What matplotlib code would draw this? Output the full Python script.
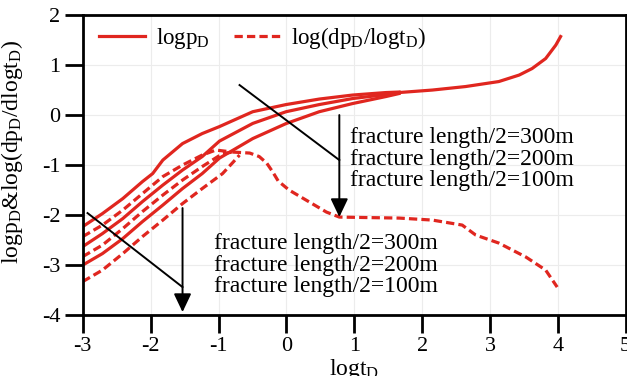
import matplotlib
matplotlib.use("Agg")
import matplotlib.pyplot as plt

plt.rcParams['font.family'] = ['Liberation Serif', 'DejaVu Serif']
plt.rcParams['mathtext.fontset'] = 'custom'
plt.rcParams['mathtext.rm'] = 'Liberation Serif'
plt.rcParams['mathtext.it'] = 'Liberation Serif:italic'
plt.rcParams['axes.unicode_minus'] = False

RED = '#e0261f'

# logpD, three fracture lengths (300, 200, 100 m) before merging
sol_x_300 = [-3.0, -2.71, -2.41, -2.12, -1.97, -1.82, -1.53, -1.24, -0.985, -0.495, -0.004, 0.485, 0.975, 1.466, 1.66]
sol_y_300 = [-2.23, -1.97, -1.67, -1.33, -1.17, -0.90, -0.57, -0.37, -0.23, 0.067, 0.21, 0.32, 0.40, 0.45, 0.46]
sol_x_200 = [-3.0, -2.71, -2.41, -2.12, -1.82, -1.53, -1.24, -0.985, -0.495, -0.004, 0.485, 0.975, 1.466, 1.66]
sol_y_200 = [-2.63, -2.37, -2.07, -1.73, -1.40, -1.10, -0.83, -0.52, -0.167, 0.067, 0.21, 0.33, 0.41, 0.45]
sol_x_100 = [-3.0, -2.71, -2.41, -2.12, -1.82, -1.53, -1.24, -0.985, -0.495, -0.004, 0.485, 0.975, 1.466, 1.66]
sol_y_100 = [-3.0, -2.77, -2.47, -2.13, -1.80, -1.47, -1.17, -0.86, -0.47, -0.17, 0.067, 0.23, 0.37, 0.43]
# common late-time logpD
sol_x_tail = [1.66, 2.15, 2.64, 3.13, 3.43, 3.62, 3.82, 3.97, 4.04]
sol_y_tail = [0.45, 0.50, 0.57, 0.67, 0.80, 0.93, 1.13, 1.40, 1.57]

# derivative, three fracture lengths before merging
der_x_300 = [-3.0, -2.71, -2.41, -2.12, -1.82, -1.53, -1.24, -1.04, -0.79]
der_y_300 = [-2.43, -2.20, -1.90, -1.57, -1.23, -1.00, -0.80, -0.70, -0.74]
der_x_200 = [-3.0, -2.71, -2.41, -2.12, -1.82, -1.53, -1.24, -0.94, -0.79]
der_y_200 = [-2.83, -2.60, -2.27, -1.93, -1.60, -1.30, -1.03, -0.77, -0.74]
der_x_100 = [-3.0, -2.71, -2.41, -2.12, -1.82, -1.53, -1.24, -0.94, -0.79, -0.69]
der_y_100 = [-3.33, -3.10, -2.77, -2.43, -2.10, -1.77, -1.47, -1.17, -0.95, -0.80]
# common late-time derivative
der_x_tail = [-0.79, -0.54, -0.40, -0.29, -0.20, -0.12, 0.04, 0.34, 0.59, 0.78, 1.2, 1.66, 2.15, 2.59, 2.79, 3.13, 3.53, 3.82, 3.99]
der_y_tail = [-0.74, -0.76, -0.83, -0.96, -1.14, -1.32, -1.50, -1.74, -1.94, -2.04, -2.05, -2.06, -2.10, -2.20, -2.40, -2.56, -2.84, -3.10, -3.44]

labels = ["fracture length/2=300m", "fracture length/2=200m", "fracture length/2=100m"]
xticks = [-3, -2, -1, 0, 1, 2, 3, 4, 5]
yticks = [-4, -3, -2, -1, 0, 1, 2]

fig = plt.figure(figsize=(6.27, 3.76), dpi=100)
ax = fig.add_axes([0.132, 0.162, 0.866, 0.798])

lw = 2.3
dash = (0, (2.6, 1.3))
for xs, ys in [(sol_x_300, sol_y_300), (sol_x_200, sol_y_200), (sol_x_100, sol_y_100)]:
    ax.plot(xs, ys, color=RED, lw=lw, solid_joinstyle='round')
ax.plot(sol_x_tail, sol_y_tail, color=RED, lw=lw, solid_joinstyle='round', label=r'logp$_{\mathrm{D}}$')
for xs, ys in [(der_x_300, der_y_300), (der_x_200, der_y_200), (der_x_100, der_y_100)]:
    ax.plot(xs, ys, color=RED, lw=lw, linestyle=dash)
ax.plot(der_x_tail, der_y_tail, color=RED, lw=lw, linestyle=dash,
        label=r'log(dp$_{\mathrm{D}}$/logt$_{\mathrm{D}}$)')

# annotations
aprops = dict(arrowstyle='-|>,head_length=0.8,head_width=0.38', color='black', lw=1.4,
              mutation_scale=14, shrinkA=0, shrinkB=0)
ax.plot([-0.69, 0.78], [0.6, -0.9], color='black', lw=1.4)
ax.annotate('', xy=(0.78, -2.04), xytext=(0.78, 0.0), arrowprops=aprops)
ax.plot([-2.93, -1.53], [-1.96, -3.44], color='black', lw=1.4)
ax.annotate('', xy=(-1.53, -3.94), xytext=(-1.53, -1.86), arrowprops=aprops)

ax.text(0.94, -0.88, "\n".join(labels), fontsize=17, va='center', ha='left', linespacing=1.02)
ax.text(-1.06, -3.0, "\n".join(labels), fontsize=17, va='center', ha='left', linespacing=1.02)

ax.set_xlim(-3, 5)
ax.set_ylim(-4, 2)
ax.set_xticks(xticks)
ax.set_yticks(yticks)
ax.tick_params(direction='out', length=13, width=2, labelsize=16, pad=3)
for s in ax.spines.values():
    s.set_linewidth(2)
ax.grid(True, color='#ececec', lw=0.8)
ax.set_axisbelow(True)

ax.set_xlabel(r'logt$_{\mathrm{D}}$', fontsize=17, labelpad=0.5)
ax.set_ylabel(r'logp$_{\mathrm{D}}$&log(dp$_{\mathrm{D}}$/dlogt$_{\mathrm{D}}$)', fontsize=17)
ax.yaxis.set_label_coords(-0.107, 0.543)

ax.legend(loc='upper left', ncol=2, frameon=False, fontsize=16.5, handlelength=2.0,
          handletextpad=0.5, columnspacing=1.05, bbox_to_anchor=(0.0, 1.02), borderaxespad=0.3)

fig.savefig('out.png', dpi=100)
